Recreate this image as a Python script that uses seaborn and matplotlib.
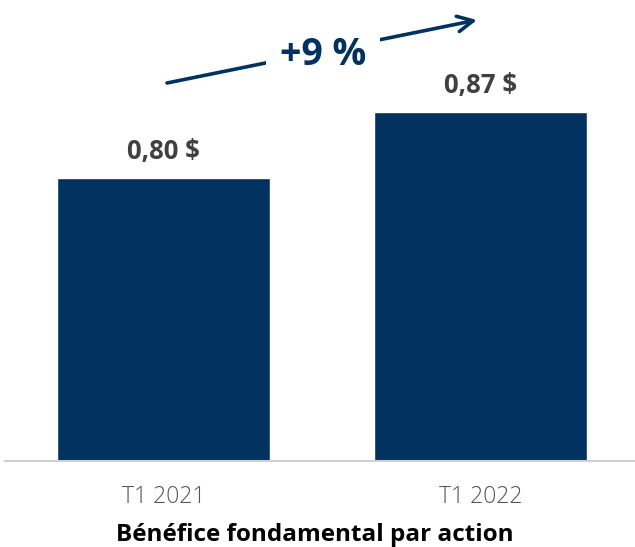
import seaborn as sns
import numpy as np
import pandas as pd
import matplotlib.pyplot as plt

# data
quarters = ['T1 2021', 'T1 2022']
eps = [0.80, 0.87]
eps_labels = ['0,80 $', '0,87 $']
growth_label = '+9 %'
title = 'Bénéfice fondamental par action'

navy = '#02325F'

sns.set_theme(style='white')
plt.rcParams['font.family'] = ['Open Sans', 'DejaVu Sans']

df = pd.DataFrame({'quarter': quarters, 'eps': eps})

fig = plt.figure(figsize=(6.35, 5.47), dpi=100)
ax = fig.add_axes([5 / 635, 1 - 461 / 547, 634 / 635, 461 / 547])

sns.barplot(data=df, x='quarter', y='eps', color=navy, saturation=1, width=0.67, ax=ax)
ax.set_xlim(-0.5, 1.5)
ax.set_ylim(0.5, 0.989)

# value labels
for i, (v, lab) in enumerate(zip(eps, eps_labels)):
    ax.annotate(lab, (i, v), xytext=(0, 19), textcoords='offset points',
                ha='center', va='center', fontsize=18.5, fontweight='bold', color='#404040')

# growth arrow
ax.annotate('', xy=(477 / 635, 1 - 20 / 547), xytext=(167 / 635, 1 - 83 / 547),
            xycoords='figure fraction', textcoords='figure fraction',
            arrowprops=dict(arrowstyle='->', color=navy, lw=2.6, mutation_scale=28,
                            shrinkA=0, shrinkB=0))
fig.text(323 / 635, 1 - 55 / 547, growth_label, ha='center', va='center',
         fontsize=27, fontweight='bold', color=navy,
         bbox=dict(facecolor='white', edgecolor='none', pad=10))

# axes styling
for s in ['top', 'right', 'left']:
    ax.spines[s].set_visible(False)
ax.spines['bottom'].set_color('#d0d0d0')
ax.spines['bottom'].set_linewidth(1.5)
ax.set_yticks([])
ax.set_ylabel('')
ax.set_xlabel('')
ax.tick_params(axis='x', length=0, pad=17, labelsize=16.5, labelcolor='#555555')
for t in ax.get_xticklabels():
    t.set_fontweight('light')

fig.text(315 / 635, 1 - 541 / 547, title, ha='center', va='baseline',
         fontsize=17.5, fontweight='bold', color='black')

fig.savefig('out.png', dpi=100)
